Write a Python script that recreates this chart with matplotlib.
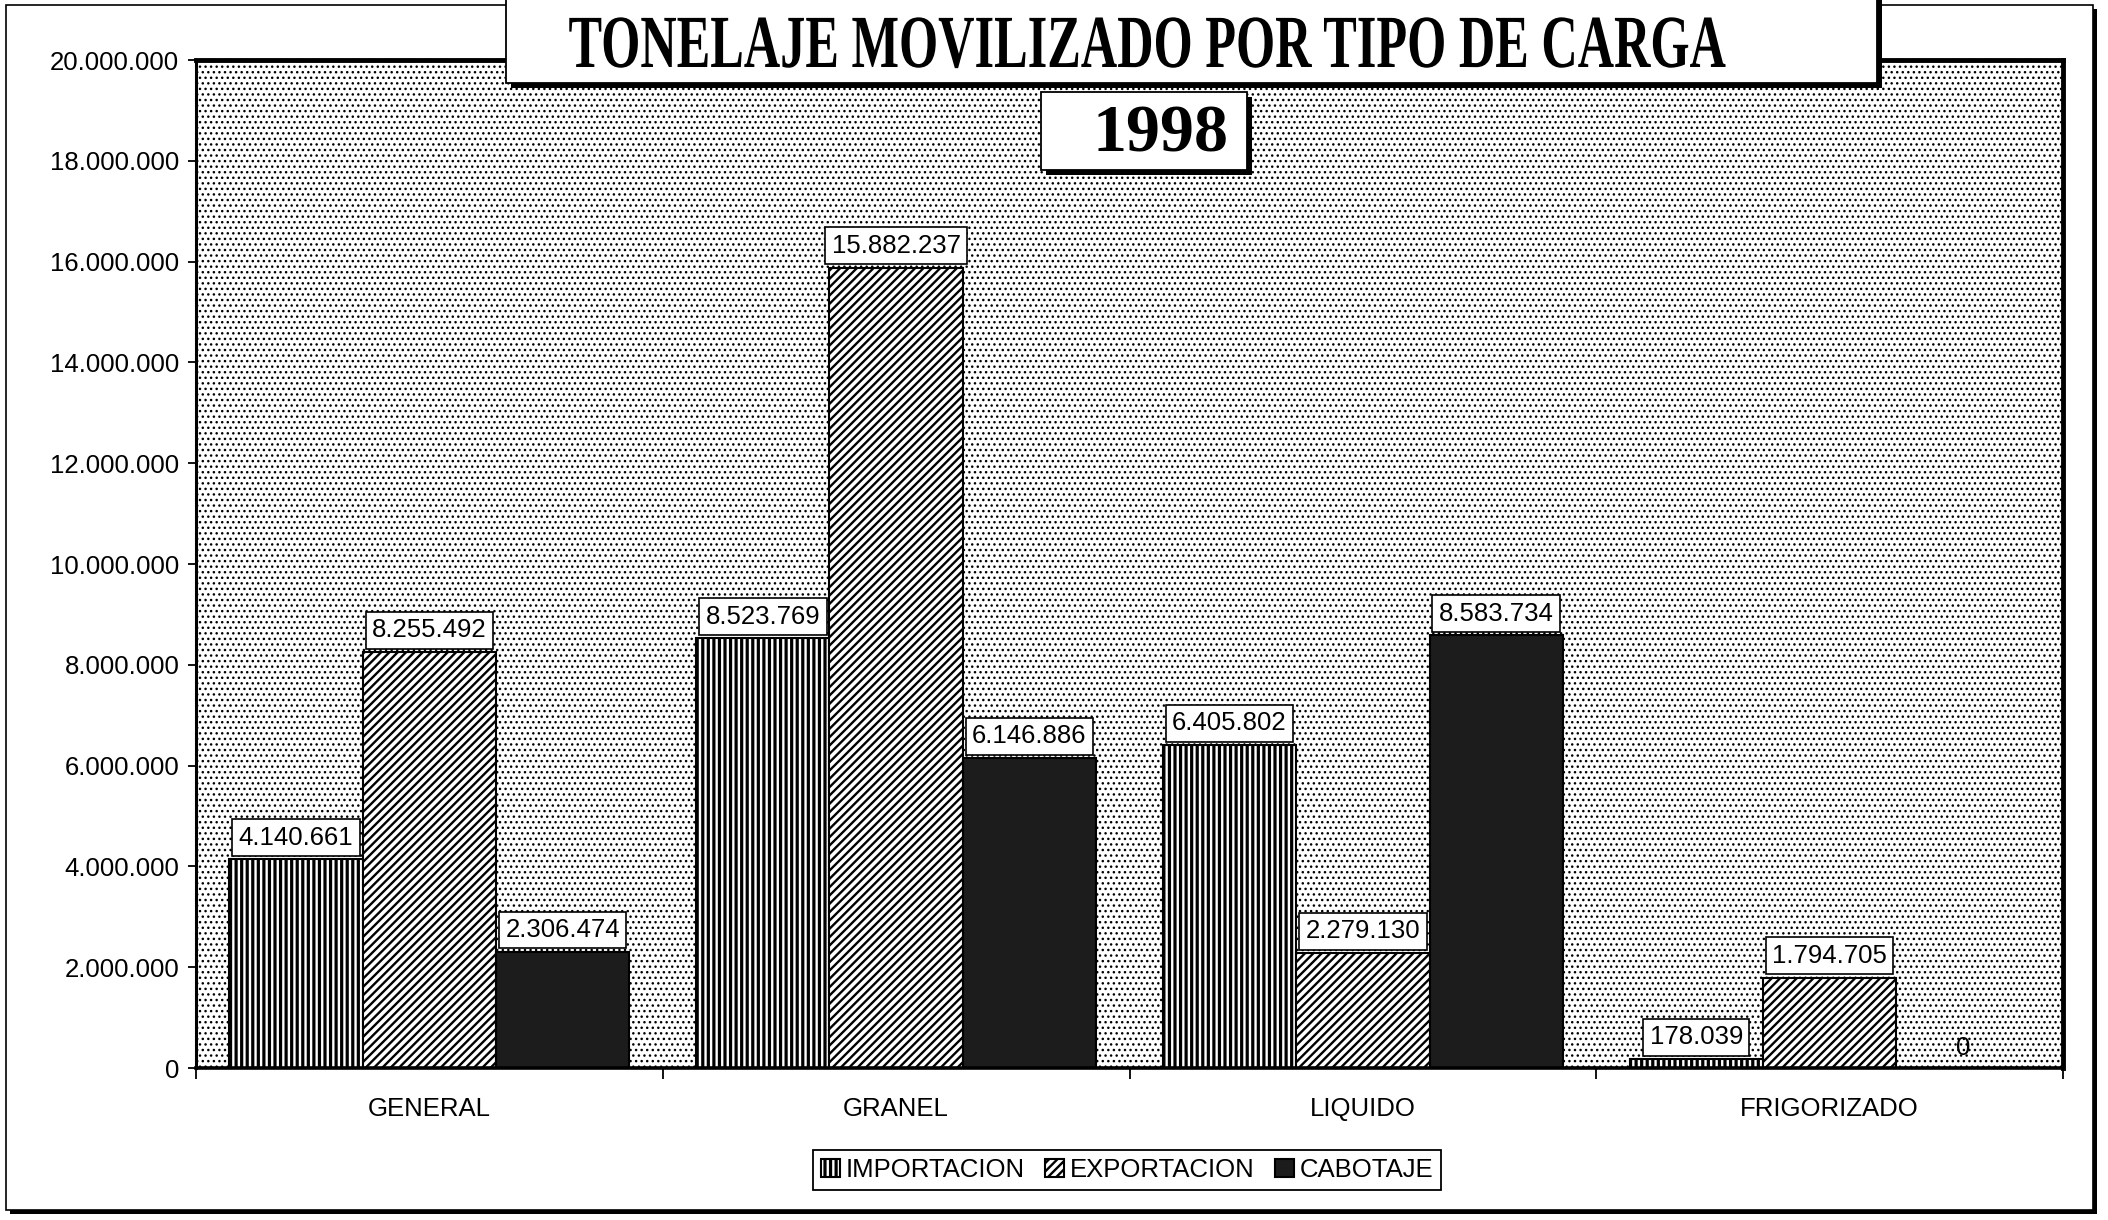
import matplotlib
matplotlib.use('Agg')
import numpy as np
import matplotlib.pyplot as plt
from matplotlib.patches import Rectangle
from matplotlib.patheffects import AbstractPathEffect
from matplotlib.transforms import Affine2D
from matplotlib.ticker import FuncFormatter

## Data
#
categories = ['GENERAL', 'GRANEL', 'LIQUIDO', 'FRIGORIZADO']
series = ['IMPORTACION', 'EXPORTACION', 'CABOTAJE']
importacion = [4140661, 8523769, 6405802, 178039]
exportacion = [8255492, 15882237, 2279130, 1794705]
cabotaje = [2306474, 6146886, 8583734, 0]
y_ticks = np.arange(0, 20000001, 2000000)
title = 'TONELAJE MOVILIZADO POR TIPO DE CARGA'
year = '1998'

plt.rcParams['font.family'] = ['Liberation Sans', 'DejaVu Sans']
plt.rcParams['hatch.color'] = 'black'
plt.rcParams['hatch.linewidth'] = 1.0

W, H = 2108, 1220
fig = plt.figure(figsize=(W / 100, H / 100), dpi=100)
fig.patch.set_facecolor('white')


def fx(px):
    return px / W


def fy(py):
    return 1 - py / H


def shadow_box(x0, y0, x1, y1, off=5, lw=1.3, z=5):
    # pixel coords from the top-left corner, black drop shadow to bottom-right
    fig.add_artist(Rectangle((fx(x0 + off), fy(y1 + off)), (x1 - x0) / W, (y1 - y0) / H,
                             transform=fig.transFigure, facecolor='black',
                             edgecolor='none', zorder=z))
    fig.add_artist(Rectangle((fx(x0), fy(y1)), (x1 - x0) / W, (y1 - y0) / H,
                             transform=fig.transFigure, facecolor='white',
                             edgecolor='black', lw=lw, zorder=z + 0.1))


def hatch_lw(artist, lw):
    if hasattr(artist, 'set_hatch_linewidth'):
        artist.set_hatch_linewidth(lw)
    # older versions read it from rcParams at draw time
    orig = artist.draw

    def draw(renderer):
        with plt.rc_context({'hatch.linewidth': lw}):
            orig(renderer)
    artist.draw = draw


class Condense(AbstractPathEffect):
    '''squeeze glyphs horizontally around a pixel column'''
    def __init__(self, sx, cx):
        super().__init__()
        self.sx, self.cx = sx, cx

    def draw_path(self, renderer, gc, tpath, affine, rgbFace=None):
        sq = Affine2D().translate(-self.cx, 0).scale(self.sx, 1).translate(self.cx, 0)
        renderer.draw_path(gc, tpath, affine + sq, rgbFace)


# outer frame
shadow_box(6, 5, 2093, 1210, off=4, lw=1.2, z=-2)

ax = fig.add_axes([fx(196), fy(1068), (2063 - 196) / W, (1068 - 60) / H])
ax.set_facecolor('white')
bg = ax.add_patch(Rectangle((0, 0), 1, 1, transform=ax.transAxes, facecolor='white',
                            edgecolor='black', lw=0, hatch='...', zorder=0))
hatch_lw(bg, 1.0)

x = np.arange(len(categories))
w = 1 / 3.5
styles = [dict(color='white', hatch='|||', hlw=2.3),
          dict(color='white', hatch='////', hlw=1.7),
          dict(color='#1c1c1c', hatch=None, hlw=1.0)]
for i, (vals, st) in enumerate(zip([importacion, exportacion, cabotaje], styles)):
    b = ax.bar(x + (i - 1) * w, vals, width=w, color=st['color'], edgecolor='black',
               lw=1.5, hatch=st['hatch'], label=series[i], zorder=1)
    for p in b.patches:
        hatch_lw(p, st['hlw'])
    for xi, v in zip(x + (i - 1) * w, vals):
        txt = f'{v:,}'.replace(',', '.')
        if v > 0:
            ax.annotate(txt, (xi, v), xytext=(0, 7), textcoords='offset points',
                        ha='center', va='bottom', fontsize=18.5, zorder=4,
                        bbox=dict(boxstyle='square,pad=0.25', fc='white', ec='black', lw=1.2))
        else:
            ax.annotate(txt, (xi, v), xytext=(0, 6), textcoords='offset points',
                        ha='center', va='bottom', fontsize=18.5, zorder=4)

ax.set_xlim(-0.5, len(categories) - 0.5)
ax.set_ylim(0, 20000000)
ax.set_yticks(y_ticks)
ax.yaxis.set_major_formatter(FuncFormatter(lambda v, p: f'{v:,.0f}'.replace(',', '.')))
ax.tick_params(axis='y', direction='out', length=6, width=1.3, pad=6, labelsize=18.5)
ax.set_xticks(x)
ax.set_xticklabels(categories)
ax.tick_params(axis='x', which='major', length=0, pad=21, labelsize=18.5)
ax.set_xticks(np.arange(-0.5, len(categories), 1), minor=True)
ax.tick_params(axis='x', which='minor', direction='out', length=8, width=1.3)

ax.spines['top'].set_linewidth(3.5)
ax.spines['right'].set_linewidth(3.5)
ax.spines['left'].set_linewidth(2.2)
ax.spines['bottom'].set_linewidth(2.6)

leg = ax.legend(loc='center', bbox_to_anchor=(fx(1127), fy(1170)),
                bbox_transform=fig.transFigure, ncol=3, fontsize=18.5,
                frameon=True, fancybox=False, framealpha=1, edgecolor='black',
                borderpad=0.3, handlelength=0.75, handleheight=0.75,
                handletextpad=0.2, columnspacing=0.8, borderaxespad=0)
leg.get_frame().set_linewidth(1.3)
for p, st in zip(leg.get_patches(), styles):
    hatch_lw(p, st['hlw'])

## Title boxes
#
shadow_box(506, -20, 1877, 83, off=5)
shadow_box(1041, 92, 1247, 170, off=5)

t = fig.text(fx(1147), fy(67), title, ha='center', va='baseline',
             family='Liberation Serif', weight='bold', fontsize=54, zorder=7)
fig.text(fx(1160), fy(152), year, ha='center', va='baseline',
         family='Liberation Serif', weight='bold', fontsize=49, zorder=7)

fig.canvas.draw()
tw = t.get_window_extent().width
t.set_path_effects([Condense(1157 / tw, 1147)])

fig.savefig('out.png', dpi=100)
